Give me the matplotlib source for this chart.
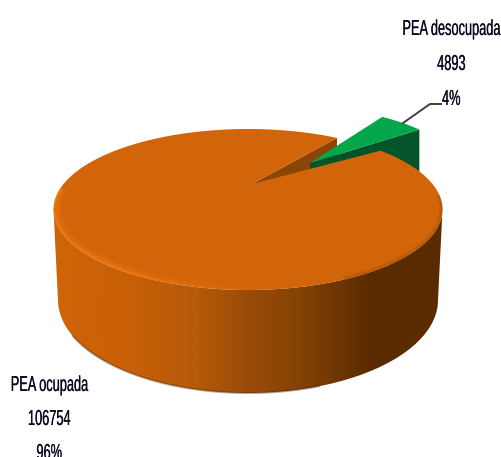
import numpy as np
import matplotlib
matplotlib.use("Agg")
import matplotlib.pyplot as plt
from matplotlib.colors import LinearSegmentedColormap
from matplotlib.patches import Polygon
from matplotlib.patheffects import AbstractPathEffect
from matplotlib.transforms import Affine2D

# data
categories = ["PEA ocupada", "PEA desocupada"]
values = [106754, 4893]
percents = ["96%", "4%"]

W, H = 502, 457

# pie geometry in pixels
cx, cy = 248, 209.5
rx, ry = 194.5, 80.5
bottom_cy, bottom_rx, bottom_ry = 300, 190, 93
apex = (252, 184)
green_apex = (310, 163)
green_sx = 0.85
green_drop = 42
start_angle = 47

share = values[1] / sum(values)
gap = share * 360


class TallText(AbstractPathEffect):
    # the original labels are a condensed font, stretch the glyphs upwards
    def __init__(self, scale, shift=0):
        super().__init__()
        self.scale = scale
        self.shift = shift

    def draw_path(self, renderer, gc, tpath, affine, rgbFace=None):
        y0 = affine.get_matrix()[1, 2]
        tall = affine + Affine2D().translate(0, -y0).scale(1, self.scale).translate(0, y0 + self.shift)
        # drawn twice, a hair apart, the original text looks heavier
        renderer.draw_path(gc, tpath, tall, rgbFace)
        renderer.draw_path(gc, tpath, tall + Affine2D().translate(0.4, 0), rgbFace)


def rim(t):
    t = np.radians(t)
    return cx + rx * np.cos(t), cy - ry * np.sin(t)


fig = plt.figure(figsize=(W / 100, H / 100), dpi=100)
ax = fig.add_axes([0, 0, 1, 1])
ax.set_xlim(0, W)
ax.set_ylim(H, 0)
ax.axis("off")

t0, t1 = start_angle, start_angle + gap
x0, y0 = rim(t0)
x1, y1 = rim(t1)

# dark cut face of the big slice
ax.add_patch(Polygon([apex, (x1, y1), (x1, y1 + 60), (apex[0], apex[1] + 60)],
                     closed=True, fc="#8B4506", ec="none", zorder=1))

# green slice, pulled out of the pie
ts = np.linspace(t0, t1, 20)
gx = green_apex[0] + (rim(ts)[0] - apex[0]) * green_sx
gy = green_apex[1] + (rim(ts)[1] - apex[1])
ax.add_patch(Polygon([green_apex, (gx[0], gy[0]), (gx[0], gy[0] + green_drop),
                      (green_apex[0], green_apex[1] + green_drop)],
                     closed=True, fc="#03542A", ec="none", zorder=2))
ax.add_patch(Polygon(list(zip([green_apex[0], *gx], [green_apex[1], *gy])),
                     closed=True, fc="#03A64A", ec="none", zorder=3))

# side of the cylinder, gradient clipped to the outline
side_cmap = LinearSegmentedColormap.from_list(
    "side", [(0, "#D06408"), (0.2, "#C86008"), (0.37, "#B45A08"), (0.5, "#9A4C08"),
             (0.63, "#864204"), (0.82, "#5A2B00"), (1, "#5A2B00")])
ts = np.linspace(0, -180, 120)
top_x, top_y = rim(ts)
low_x = cx + bottom_rx * np.cos(np.radians(ts))
low_y = bottom_cy - bottom_ry * np.sin(np.radians(ts))
side = Polygon(np.column_stack([np.r_[top_x, low_x[::-1]], np.r_[top_y, low_y[::-1]]]),
               closed=True, fc="none", ec="none", zorder=4)
ax.add_patch(side)
grad = ax.imshow(np.linspace(0, 1, 256)[None, :], cmap=side_cmap, aspect="auto",
                 extent=(cx - rx, cx + rx, 400, 200), zorder=4)
grad.set_clip_path(side)
ax.set_xlim(0, W)
ax.set_ylim(H, 0)

# dark lip along the bottom, only under the lit part
ax.plot(low_x[45:105], low_y[45:105], color="#3A1A00", lw=1.5, alpha=0.35, zorder=5)

# top face with the gap cut out
ts = np.linspace(t1, t0 + 360, 300)
top_x, top_y = rim(ts)
ax.add_patch(Polygon(np.column_stack([np.r_[apex[0], top_x], np.r_[apex[1], top_y]]),
                     closed=True, fc="#D2650A", ec="none", zorder=6))

# bevel on the lower left of the rim, fading out towards the front
ts = np.linspace(165, 275, 56)
fade = np.clip((275 - ts) / 50, 0, 1)
for shrink, lw, a in [(6, 2.5, 0.1), (4, 2.5, 0.18), (2, 2, 0.32), (0.8, 1.2, 0.5)]:
    bx = cx + (rx - shrink) * np.cos(np.radians(ts))
    by = cy - (ry - shrink) * np.sin(np.radians(ts))
    for i in range(len(ts) - 1):
        ax.plot(bx[i:i + 2], by[i:i + 2], color="#FF8418", lw=lw, alpha=a * fade[i],
                zorder=7, solid_capstyle="butt")

# soft dark edge on the right of the rim
ts = np.linspace(-60, 10, 50)
for shrink, a in [(2.5, 0.12), (0.8, 0.25)]:
    bx = cx + (rx - shrink) * np.cos(np.radians(ts))
    by = cy - (ry - shrink) * np.sin(np.radians(ts))
    ax.plot(bx, by, color="#7A3A04", lw=1.5, alpha=a, zorder=7)

# labels
font = {"family": ["Liberation Sans", "DejaVu Sans"], "fontsize": 9.2, "color": "#0A0A20",
        "ha": "center", "va": "baseline"}
tall = TallText(1.7)
for text, y in zip([categories[1], str(values[1]), percents[1]], [35, 70, 105]):
    ax.text(451, y, text, **font, zorder=9, path_effects=[tall])
for text, y in zip([categories[0], str(values[0]), percents[0]], [391, 425]):
    ax.text(49, y, text, **font, zorder=9, path_effects=[tall])
# the last line runs off the bottom of the picture in the original
ax.text(49, 455, percents[0], **font, zorder=9, path_effects=[TallText(1.7, shift=-4)])

# leader line
ax.plot([403, 430, 441], [123, 104, 104], color="#404040", lw=1.4, zorder=8)

fig.savefig("out.png", dpi=100)
